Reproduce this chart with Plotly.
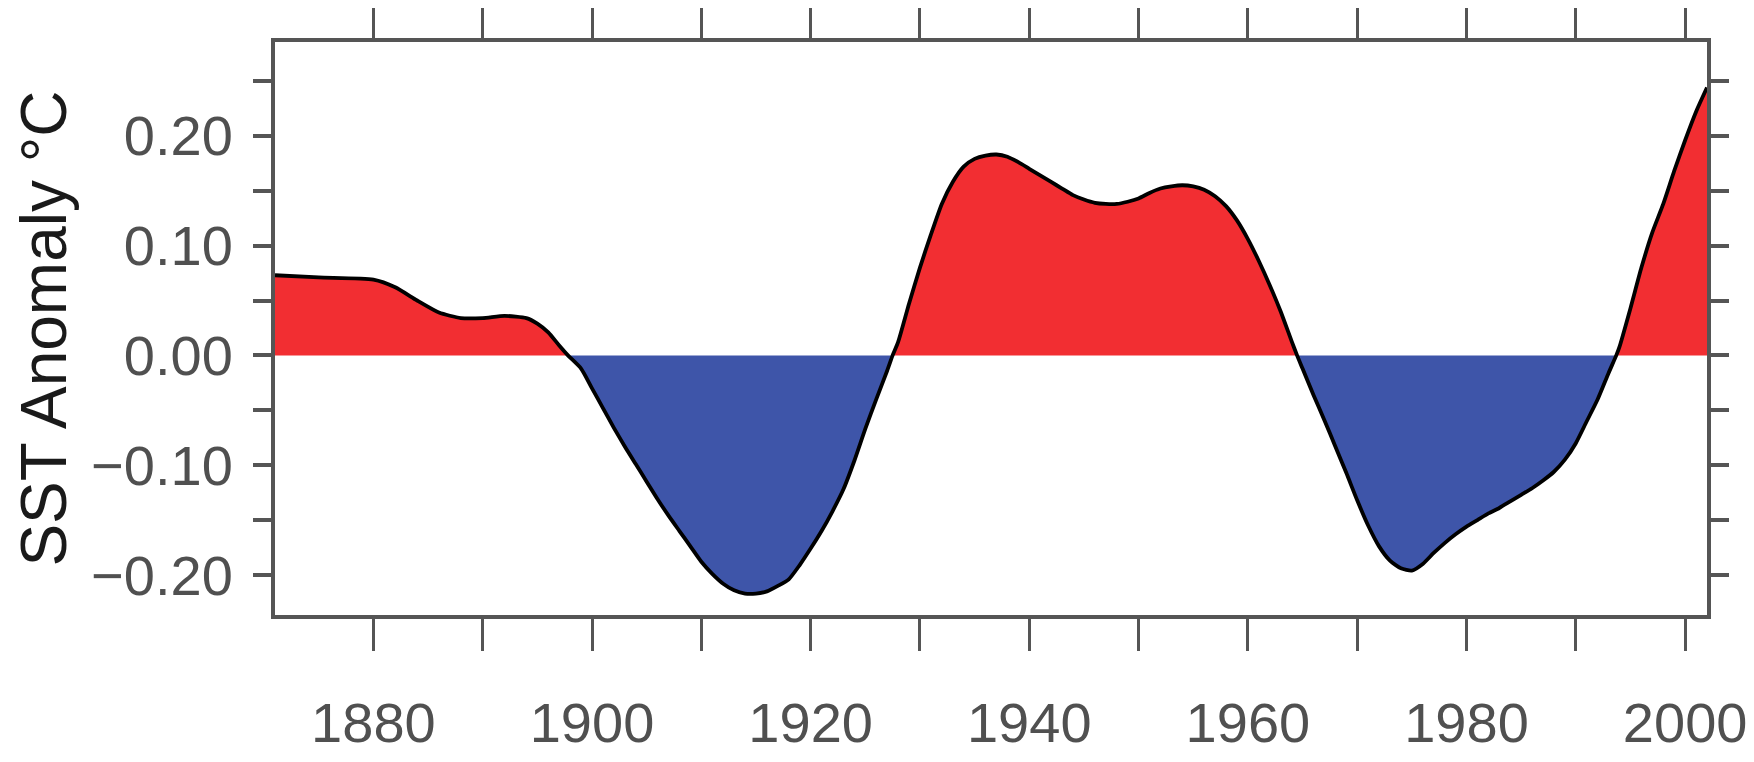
import plotly.graph_objects as go

# ---- data ----
years = [1871, 1875, 1880, 1882, 1884, 1886, 1888, 1890, 1892, 1894, 1895, 1896, 1897, 1897.8,
         1899, 1900, 1901, 1902, 1903, 1904, 1905, 1906, 1907, 1908, 1909, 1910, 1911, 1912,
         1913, 1914, 1915, 1916, 1917, 1918, 1919, 1920, 1921, 1922, 1923, 1924, 1925, 1926,
         1927, 1927.5, 1928, 1929, 1930, 1931, 1932, 1933, 1934, 1935, 1936, 1937, 1938, 1939,
         1940, 1941, 1942, 1943, 1944, 1945, 1946, 1947, 1948, 1949, 1950, 1951, 1952, 1953,
         1954, 1955, 1956, 1957, 1958, 1959, 1960, 1961, 1962, 1963, 1964, 1964.5, 1965, 1966,
         1967, 1968, 1969, 1970, 1971, 1972, 1973, 1974, 1975, 1976, 1977, 1978, 1979, 1980,
         1981, 1982, 1983, 1984, 1985, 1986, 1987, 1988, 1989, 1990, 1991, 1992, 1993, 1993.7,
         1994, 1995, 1996, 1997, 1998, 1999, 2000, 2001, 2002]
sst_anomaly = [0.073, 0.071, 0.069, 0.062, 0.050, 0.039, 0.034, 0.034, 0.036, 0.034, 0.029, 0.021, 0.009, 0.0,
               -0.012, -0.030, -0.048, -0.066, -0.083, -0.099, -0.115, -0.131, -0.146, -0.160, -0.174, -0.188, -0.199, -0.208,
               -0.214, -0.217, -0.217, -0.215, -0.210, -0.204, -0.191, -0.176, -0.160, -0.142, -0.122, -0.096, -0.067, -0.040,
               -0.014, 0.0, 0.012, 0.047, 0.080, 0.110, 0.138, 0.158, 0.172, 0.179, 0.182, 0.183, 0.181, 0.176,
               0.170, 0.164, 0.158, 0.152, 0.146, 0.142, 0.139, 0.138, 0.138, 0.140, 0.143, 0.148, 0.152, 0.154,
               0.155, 0.154, 0.151, 0.145, 0.136, 0.123, 0.106, 0.086, 0.064, 0.040, 0.013, 0.0, -0.012, -0.036,
               -0.059, -0.083, -0.107, -0.132, -0.155, -0.174, -0.187, -0.194, -0.196, -0.190, -0.180, -0.171, -0.163, -0.156,
               -0.150, -0.144, -0.139, -0.133, -0.127, -0.121, -0.114, -0.106, -0.095, -0.080, -0.060, -0.040, -0.016, 0.0,
               0.008, 0.043, 0.080, 0.112, 0.138, 0.168, 0.196, 0.222, 0.244]

x_tick_vals = [1880, 1890, 1900, 1910, 1920, 1930, 1940, 1950, 1960, 1970, 1980, 1990, 2000]
x_tick_text = ["1880", "", "1900", "", "1920", "", "1940", "", "1960", "", "1980", "", "2000"]
y_tick_vals = [-0.20, -0.15, -0.10, -0.05, 0.0, 0.05, 0.10, 0.15, 0.20, 0.25]
y_tick_text = ["\u22120.20", "", "\u22120.10", "", "0.00", "", "0.10", "", "0.20", ""]
y_title = "SST Anomaly \u00b0C"

pos = [max(v, 0.0) for v in sst_anomaly]
neg = [min(v, 0.0) for v in sst_anomaly]

RED = "#F22E32"
BLUE = "#3E55A9"
AX = "#555555"
LBL = "#505050"
FONT = "Liberation Sans, Arial, sans-serif"

fig = go.Figure()
fig.add_trace(go.Scatter(x=years, y=pos, mode="lines", line=dict(width=0, color=RED),
                         fill="tozeroy", fillcolor=RED, hoverinfo="skip", showlegend=False))
fig.add_trace(go.Scatter(x=years, y=neg, mode="lines", line=dict(width=0, color=BLUE),
                         fill="tozeroy", fillcolor=BLUE, hoverinfo="skip", showlegend=False))
fig.add_trace(go.Scatter(x=years, y=sst_anomaly, mode="lines",
                         line=dict(color="black", width=3.8, shape="spline", smoothing=0.6),
                         showlegend=False))

# the page body adds an 8px margin, so the figure is 8px smaller and shifted
fig.update_layout(
    width=1746, height=754,
    margin=dict(l=267, r=47, t=34, b=147),
    paper_bgcolor="white", plot_bgcolor="white",
    font=dict(family=FONT, color=LBL),
)
fig.update_xaxes(
    range=[1871, 2002], tickmode="array", tickvals=x_tick_vals, ticktext=x_tick_text,
    ticks="outside", ticklen=32, tickwidth=2.5, tickcolor=AX,
    showline=True, linecolor=AX, linewidth=4, mirror="ticks",
    showgrid=False, zeroline=False, automargin=False,
    tickfont=dict(size=56, family=FONT, color=LBL),
    ticklabelstandoff=24,
)
fig.update_yaxes(
    range=[-0.2365, 0.2855], tickmode="array", tickvals=y_tick_vals, ticktext=y_tick_text,
    ticks="outside", ticklen=18, tickwidth=4, tickcolor=AX,
    showline=True, linecolor=AX, linewidth=4, mirror="ticks",
    showgrid=False, zeroline=False, automargin=False,
    tickfont=dict(size=56, family=FONT, color=LBL),
    ticklabelstandoff=9,
    title=dict(text=y_title, font=dict(size=64, family=FONT, color="#1a1a1a"), standoff=14),
)

fig.write_html("out.html")
